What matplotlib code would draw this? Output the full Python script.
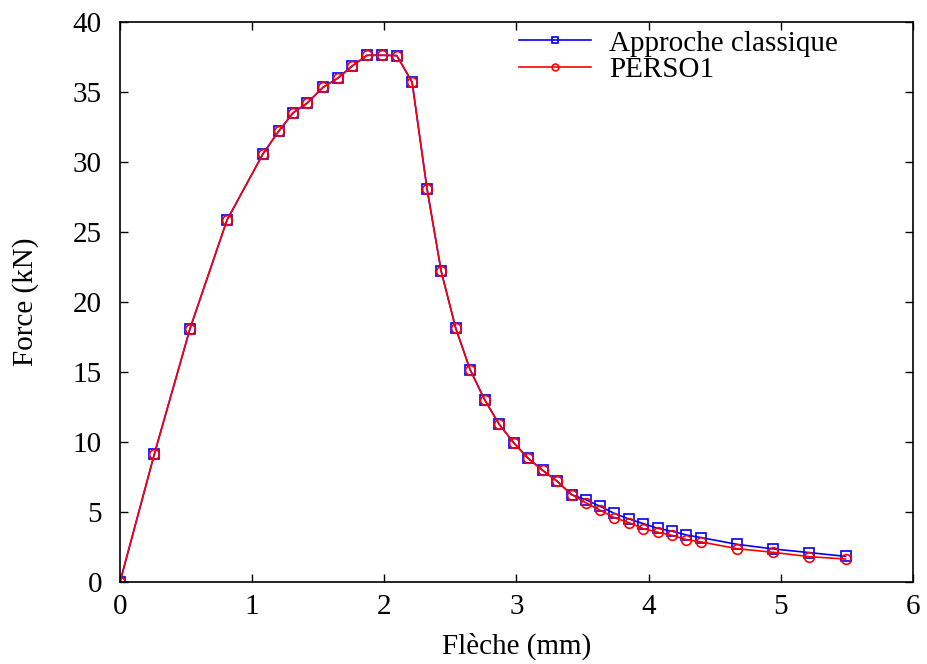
import matplotlib
matplotlib.use("Agg")
import matplotlib.pyplot as plt

plt.rcParams['font.family'] = ['Liberation Serif', 'DejaVu Serif']
plt.rcParams['mathtext.fontset'] = 'stix'

# Common part of the curve (both series identical)
x_common = [0.0, 0.26, 0.53, 0.81, 1.083, 1.20, 1.311, 1.417, 1.536, 1.647, 1.758,
            1.869, 1.983, 2.094, 2.21, 2.323, 2.43, 2.54, 2.649, 2.76, 2.869,
            2.98, 3.089, 3.197, 3.306, 3.417]
y_common = [0.0, 9.14, 18.1, 25.86, 30.6, 32.19, 33.52, 34.21, 35.33, 35.98, 36.86,
            37.62, 37.62, 37.6, 35.71, 28.09, 22.21, 18.14, 15.17, 13.0, 11.26,
            9.93, 8.83, 7.98, 7.21, 6.24]

# Tail part where the two series diverge
x_tail = [3.523, 3.634, 3.74, 3.85, 3.96, 4.069, 4.18, 4.286, 4.397, 4.67, 4.942, 5.215, 5.49]
y_tail_classique = [5.88, 5.40, 4.90, 4.50, 4.17, 3.83, 3.62, 3.36, 3.17, 2.69, 2.36, 2.10, 1.83]
y_tail_perso1 = [5.67, 5.12, 4.60, 4.24, 3.81, 3.55, 3.33, 3.02, 2.86, 2.38, 2.12, 1.81, 1.64]

x_all = x_common + x_tail
y_classique = y_common + y_tail_classique
y_perso1 = y_common + y_tail_perso1

labels = ["Approche classique", "PERSO1"]
xlabel = "Flèche (mm)"
ylabel = "Force (kN)"

FS = 21

fig = plt.figure(figsize=(9.28, 6.64), dpi=100)
ax = fig.add_axes([0.1293, 0.1235, 0.9838 - 0.1293, 0.9669 - 0.1235])

ax.plot(x_all, y_classique, color='#0000ff', lw=1.2, marker='s', markersize=7,
        markerfacecolor='none', markeredgecolor='#0000ff', markeredgewidth=1.2,
        label=labels[0])
ax.plot(x_all, y_perso1, color='#ff0000', lw=1.2, marker='o', markersize=7,
        markerfacecolor='none', markeredgecolor='#ff0000', markeredgewidth=1.2,
        label=labels[1])

ax.set_xlim(0, 6)
ax.set_ylim(0, 40)
ax.set_xticks(range(0, 7))
ax.set_yticks(range(0, 41, 5))
ax.tick_params(direction='in', length=6, width=1, top=True, right=True,
               labelsize=FS)
ax.tick_params(axis='y', pad=13)
ax.tick_params(axis='x', pad=9)
for s in ax.spines.values():
    s.set_linewidth(1.2)

ax.set_xlabel(xlabel, fontsize=FS, labelpad=9)
ax.set_ylabel(ylabel, fontsize=FS, labelpad=24)

leg = ax.legend(loc='upper right', frameon=False, fontsize=FS, handlelength=2.5,
                borderaxespad=0.0, handletextpad=0.6, labelspacing=0.0,
                markerscale=0.7, bbox_to_anchor=(0.92, 1.006))

fig.savefig("out.png", dpi=100)
